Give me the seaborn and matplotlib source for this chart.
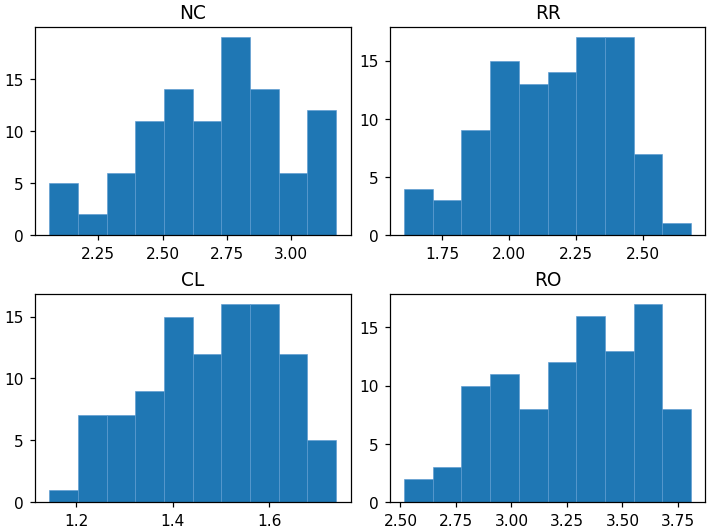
import numpy as np
import pandas as pd
import matplotlib
matplotlib.use("Agg")
import matplotlib.pyplot as plt
import seaborn as sns

titles = ["NC", "RR", "CL", "RO"]
bin_lo = [2.059, 1.606, 1.144, 2.516]
bin_hi = [3.175, 2.681, 1.738, 3.809]
nc_counts = [5, 2, 6, 11, 14, 11, 19, 14, 6, 12]
rr_counts = [4, 3, 9, 15, 13, 14, 17, 17, 7, 1]
cl_counts = [1, 7, 7, 9, 15, 12, 16, 16, 12, 5]
ro_counts = [2, 3, 10, 11, 8, 12, 16, 13, 17, 8]
all_counts = [nc_counts, rr_counts, cl_counts, ro_counts]

nc_xticks = [2.25, 2.50, 2.75, 3.00]
rr_xticks = [1.75, 2.00, 2.25, 2.50]
cl_xticks = [1.2, 1.4, 1.6]
ro_xticks = [2.50, 2.75, 3.00, 3.25, 3.50, 3.75]
all_xticks = [nc_xticks, rr_xticks, cl_xticks, ro_xticks]
xtick_fmt = ["{:.2f}", "{:.2f}", "{:.1f}", "{:.2f}"]
yticks = [0, 5, 10, 15]

fig, axes = plt.subplots(2, 2, figsize=(6.4, 4.8), dpi=111)
fig.subplots_adjust(left=0.0489, right=0.993, top=0.947, bottom=0.0564,
                    wspace=0.124, hspace=0.285)
for ax, title, lo, hi, counts, xt, fmt in zip(axes.flat, titles, bin_lo, bin_hi,
                                              all_counts, all_xticks, xtick_fmt):
    edges = np.linspace(lo, hi, len(counts) + 1)
    centers = (edges[:-1] + edges[1:]) / 2
    df = pd.DataFrame({"x": centers, "w": counts})
    sns.histplot(data=df, x="x", weights="w", bins=edges.tolist(), ax=ax,
                 color="#1f77b4", alpha=1, edgecolor="#5d9bd0", linewidth=0.4)
    ax.set_title(title, fontsize=12)
    ax.set_xlabel("")
    ax.set_ylabel("")
    ax.set_xticks(xt)
    ax.set_xticklabels([fmt.format(v) for v in xt])
    ax.set_yticks(yticks)

fig.savefig("out.png", dpi=111)
